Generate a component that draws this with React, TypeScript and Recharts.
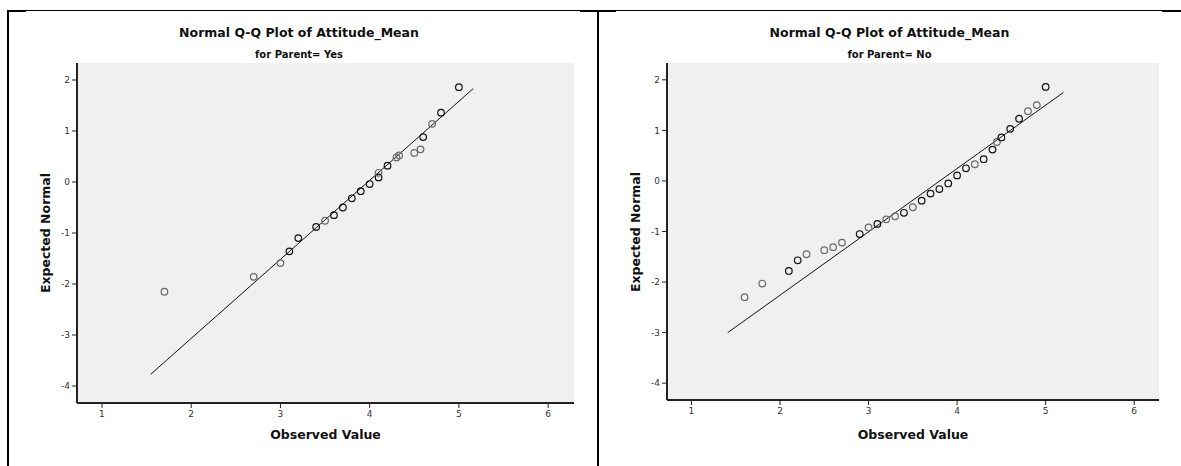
import React from 'react';
import {
  ScatterChart,
  Scatter,
  XAxis,
  YAxis,
  CartesianGrid,
  ReferenceLine,
} from 'recharts';

// Parent = Yes
const observedYes = [1.7, 2.7, 3.0, 3.1, 3.2, 3.4, 3.5, 3.6, 3.7, 3.8, 3.9, 4.0, 4.1, 4.1, 4.2, 4.3, 4.33, 4.5, 4.57, 4.6, 4.7, 4.8, 5.0];
const expectedYes = [-2.15, -1.86, -1.59, -1.36, -1.1, -0.88, -0.76, -0.65, -0.5, -0.32, -0.18, -0.04, 0.09, 0.18, 0.32, 0.48, 0.52, 0.57, 0.64, 0.88, 1.14, 1.36, 1.86];
const tiesYes = [1, 1, 1, 2, 2, 2, 1, 2, 2, 2, 2, 2, 2, 1, 2, 1, 1, 1, 1, 2, 1, 2, 2];
const fitYes = [
  { x: 1.546, y: -3.77 },
  { x: 5.16, y: 1.83 },
];

// Parent = No
const observedNo = [1.6, 1.8, 2.1, 2.2, 2.3, 2.5, 2.6, 2.7, 2.9, 3.0, 3.1, 3.2, 3.3, 3.4, 3.5, 3.6, 3.7, 3.8, 3.9, 4.0, 4.1, 4.2, 4.3, 4.4, 4.45, 4.5, 4.6, 4.7, 4.8, 4.9, 5.0];
const expectedNo = [-2.3, -2.03, -1.78, -1.57, -1.45, -1.37, -1.31, -1.22, -1.05, -0.92, -0.85, -0.76, -0.7, -0.63, -0.52, -0.39, -0.25, -0.16, -0.05, 0.11, 0.25, 0.33, 0.43, 0.62, 0.77, 0.86, 1.03, 1.23, 1.38, 1.5, 1.86];
const tiesNo = [1, 1, 2, 2, 1, 1, 1, 1, 2, 1, 2, 1, 1, 2, 1, 2, 2, 2, 2, 2, 2, 1, 2, 2, 1, 2, 2, 2, 1, 1, 2];
const fitNo = [
  { x: 1.41, y: -3.0 },
  { x: 5.2, y: 1.75 },
];

const xTicks = [1, 2, 3, 4, 5, 6];
const yTicks = [-4, -3, -2, -1, 0, 1, 2];

const FONT = '"DejaVu Sans", Verdana, sans-serif';

const toPoints = (xs: number[], ys: number[], ties: number[]) =>
  xs.map((x, i) => ({ x, y: ys[i], n: ties[i] }));

const Ring = (props: any) => {
  const { cx, cy, payload } = props;
  if (cx == null || cy == null) return <g />;
  return (
    <circle
      cx={cx}
      cy={cy}
      r={3.3}
      fill="none"
      stroke={payload.n > 1 ? '#111' : '#6a6a6a'}
      strokeWidth={1.2}
    />
  );
};

interface PanelProps {
  group: string;
  points: { x: number; y: number; n: number }[];
  fit: { x: number; y: number }[];
  left: number;
  width: number;
  margin: { top: number; right: number; bottom: number; left: number };
  xDomain: [number, number];
}

function QQPanel({ group, points, fit, left, width, margin, xDomain }: PanelProps) {
  const plotLeft = margin.left + 40;
  const plotRight = width - margin.right;
  const plotTop = margin.top;
  const plotBottom = 466 - margin.bottom - 30;
  const cx = width / 2;
  const tick = { fontSize: 9, fill: '#333', fontFamily: FONT };

  return (
    <div style={{ position: 'absolute', left, top: 0, width, height: 466 }}>
      <div style={{ position: 'absolute', left: cx, top: 32, transform: 'translate(-50%, -50%)', whiteSpace: 'nowrap', fontFamily: FONT, fontWeight: 'bold', fontSize: 12.5, color: '#111' }}>
        Normal Q-Q Plot of Attitude_Mean
      </div>
      <div style={{ position: 'absolute', left: cx, top: 54, transform: 'translate(-50%, -50%)', whiteSpace: 'nowrap', fontFamily: FONT, fontWeight: 'bold', fontSize: 10, color: '#111' }}>
        for Parent= {group}
      </div>
      <ScatterChart width={width} height={466} margin={margin}>
        <CartesianGrid fill="#f0f0f0" horizontal={false} vertical={false} />
        <XAxis
          type="number"
          dataKey="x"
          domain={xDomain}
          ticks={xTicks}
          allowDataOverflow
          height={30}
          tick={tick}
          tickSize={5}
          tickMargin={3}
          axisLine={{ stroke: '#222', strokeWidth: 2 }}
          tickLine={{ stroke: '#222' }}
        />
        <XAxis xAxisId="top" orientation="top" type="number" domain={xDomain} height={0} tick={false} tickLine={false} axisLine={{ stroke: '#777', strokeWidth: 1.5 }} />
        <YAxis
          type="number"
          dataKey="y"
          domain={[-4.333, 2.333]}
          ticks={yTicks}
          allowDataOverflow
          width={40}
          tick={tick}
          tickSize={5}
          tickMargin={2}
          axisLine={{ stroke: '#222', strokeWidth: 2 }}
          tickLine={{ stroke: '#222' }}
        />
        <YAxis yAxisId="right" orientation="right" type="number" domain={[-4.333, 2.333]} width={0} tick={false} tickLine={false} axisLine={{ stroke: '#777', strokeWidth: 1.5 }} />
        <ReferenceLine
          segment={fit}
          stroke="#111"
          strokeWidth={1}
          ifOverflow="visible"
        />
        <Scatter data={points} shape={Ring} isAnimationActive={false} />
      </ScatterChart>
      <div style={{ position: 'absolute', left: (plotLeft + plotRight) / 2, top: 434, transform: 'translate(-50%, -50%)', whiteSpace: 'nowrap', fontFamily: FONT, fontWeight: 'bold', fontSize: 12.5, color: '#111' }}>
        Observed Value
      </div>
      <div style={{ position: 'absolute', left: plotLeft - 32, top: (plotTop + plotBottom) / 2, transform: 'translate(-50%, -50%) rotate(-90deg)', whiteSpace: 'nowrap', fontFamily: FONT, fontWeight: 'bold', fontSize: 12.5, color: '#111' }}>
        Expected Normal
      </div>
    </div>
  );
}

export default function App() {
  return (
    <div style={{ position: 'absolute', left: 0, top: 0, width: 1181, height: 466, background: '#fff', overflow: 'hidden' }}>
      {/* table frame around the two plots */}
      <div style={{ position: 'absolute', left: 7, top: 10, width: 1174, height: 1, background: '#000' }} />
      <div style={{ position: 'absolute', left: 7, top: 10, width: 19, height: 2, background: '#000' }} />
      <div style={{ position: 'absolute', left: 580, top: 10, width: 36, height: 2, background: '#000' }} />
      <div style={{ position: 'absolute', left: 1162, top: 10, width: 19, height: 2, background: '#000' }} />
      <div style={{ position: 'absolute', left: 7, top: 10, width: 2, height: 456, background: '#000' }} />
      <div style={{ position: 'absolute', left: 597, top: 10, width: 2, height: 456, background: '#000' }} />

      <QQPanel
        group="Yes"
        points={toPoints(observedYes, expectedYes, tiesYes)}
        fit={fitYes}
        left={0}
        width={598}
        margin={{ top: 63, right: 24, bottom: 33, left: 37 }}
        xDomain={[0.72, 6.29]}
      />
      <QQPanel
        group="No"
        points={toPoints(observedNo, expectedNo, tiesNo)}
        fit={fitNo}
        left={598}
        width={583}
        margin={{ top: 63, right: 22, bottom: 36, left: 29 }}
        xDomain={[0.724, 6.28]}
      />
    </div>
  );
}
